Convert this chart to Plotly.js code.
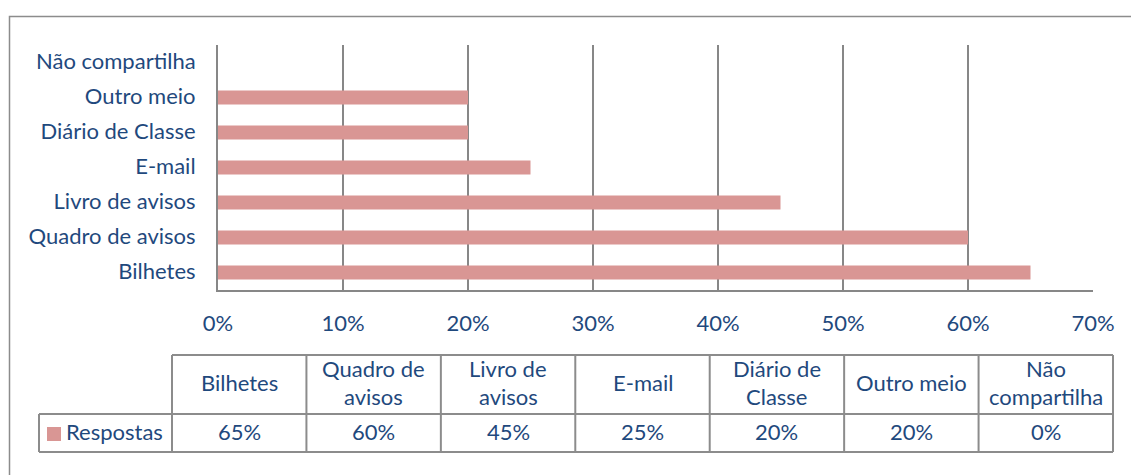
<!DOCTYPE html>
<html>
<head>
<meta charset="utf-8">
<script src="https://cdn.plot.ly/plotly-3.0.1.min.js"></script>
<style>html,body{margin:0;padding:0;background:#fff;}</style>
</head>
<body>
<div id="chart" style="width:1131px;height:475px;"></div>
<script>
// Data
const categories = ["Bilhetes", "Quadro de avisos", "Livro de avisos", "E-mail", "Diário de Classe", "Outro meio", "Não compartilha"];
const tableHeaders = ["Bilhetes", "Quadro de<br>avisos", "Livro de<br>avisos", "E-mail", "Diário de<br>Classe", "Outro meio", "Não<br>compartilha"];
const seriesName = "Respostas";
const values = [0.65, 0.60, 0.45, 0.25, 0.20, 0.20, 0.00];

// Styling
const textColor = "#1F497D";
const gridColor = "#878787";
const barColor = "#D99694";
const fontFam = "Lato, 'Noto Sans', sans-serif";
const fs = 22;

const W = 1131, H = 475;
const L = 218, R = 1093, T = 45, B = 290;
const px2x = px => (px - L) / (R - L);
const py2y = py => (B - py) / (B - T);

const shapes = [];
const annotations = [];

// outer chart border
shapes.push({type: "rect", xref: "paper", yref: "paper",
  x0: px2x(9.5), x1: px2x(1145), y0: py2y(16.5), y1: py2y(520),
  line: {color: "#8c8c8c", width: 1.5}, fillcolor: "rgba(0,0,0,0)"});

// data table
const tLeft = 172, tRight = 1113, legLeft = 39;
const hTop = 355, hBot = 414, vBot = 452;
const colW = (tRight - tLeft) / categories.length;
const lineStyle = {color: "#8c8c8c", width: 2};
const hline = (x0, x1, y) => shapes.push({type: "line", xref: "paper", yref: "paper", x0: px2x(x0), x1: px2x(x1), y0: py2y(y), y1: py2y(y), line: lineStyle});
const vline = (x, y0, y1) => shapes.push({type: "line", xref: "paper", yref: "paper", x0: px2x(x), x1: px2x(x), y0: py2y(y0), y1: py2y(y1), line: lineStyle});

hline(tLeft, tRight, hTop);
hline(legLeft, tRight, hBot);
hline(legLeft, tRight, vBot);
vline(legLeft, hBot, vBot);
for (let i = 0; i <= categories.length; i++) {
  vline(tLeft + i * colW, hTop, vBot);
}

const txtFont = {family: fontFam, size: fs, color: textColor};
const ys = 2;
tableHeaders.forEach((h, i) => {
  const cx = tLeft + (i + 0.5) * colW;
  const lines = h.split("<br>");
  const lh = 28;
  const mid = (hTop + hBot) / 2;
  lines.forEach((ln, j) => {
    const cy = mid + (j - (lines.length - 1) / 2) * lh;
    annotations.push({xref: "paper", yref: "paper", x: px2x(cx), y: py2y(cy), yshift: ys, text: ln, showarrow: false, xanchor: "center", yanchor: "middle", font: txtFont});
  });
  annotations.push({xref: "paper", yref: "paper", x: px2x(cx), y: py2y((hBot + vBot) / 2), yshift: ys, text: Math.round(values[i] * 100) + "%", showarrow: false, xanchor: "center", yanchor: "middle", font: txtFont});
});

// legend key in table
shapes.push({type: "rect", xref: "paper", yref: "paper", x0: px2x(47), x1: px2x(61), y0: py2y(427), y1: py2y(441), line: {width: 0}, fillcolor: barColor});
annotations.push({xref: "paper", yref: "paper", x: px2x(64), y: py2y((hBot + vBot) / 2), yshift: ys, text: seriesName, showarrow: false, xanchor: "left", yanchor: "middle", font: txtFont});

const trace = {
  type: "bar", orientation: "h",
  x: values, y: categories, name: seriesName,
  marker: {color: barColor, line: {width: 0}},
  hoverinfo: "x+y"
};

const layout = {
  width: W, height: H,
  margin: {l: L, r: W - R, t: T, b: H - B, pad: 0},
  paper_bgcolor: "#fff", plot_bgcolor: "#fff",
  showlegend: false,
  bargap: 0.6,
  font: {family: fontFam, size: fs, color: textColor},
  xaxis: {
    range: [0, 0.7], dtick: 0.1, tick0: 0, tickformat: ".0%",
    showgrid: true, gridcolor: gridColor, gridwidth: 2,
    showline: true, linecolor: gridColor, linewidth: 2,
    zeroline: false, ticks: "", ticklabelstandoff: 13,
    tickfont: txtFont,
    fixedrange: true
  },
  yaxis: {
    type: "category", categoryorder: "array", categoryarray: categories,
    showgrid: false, showline: true, linecolor: gridColor, linewidth: 2,
    zeroline: false, ticks: "", ticklabelstandoff: 16, ticklabelshift: -1,
    tickfont: txtFont,
    fixedrange: true
  },
  shapes: shapes,
  annotations: annotations
};

Plotly.newPlot("chart", [trace], layout, {displayModeBar: false, staticPlot: true});
</script>
</body>
</html>
